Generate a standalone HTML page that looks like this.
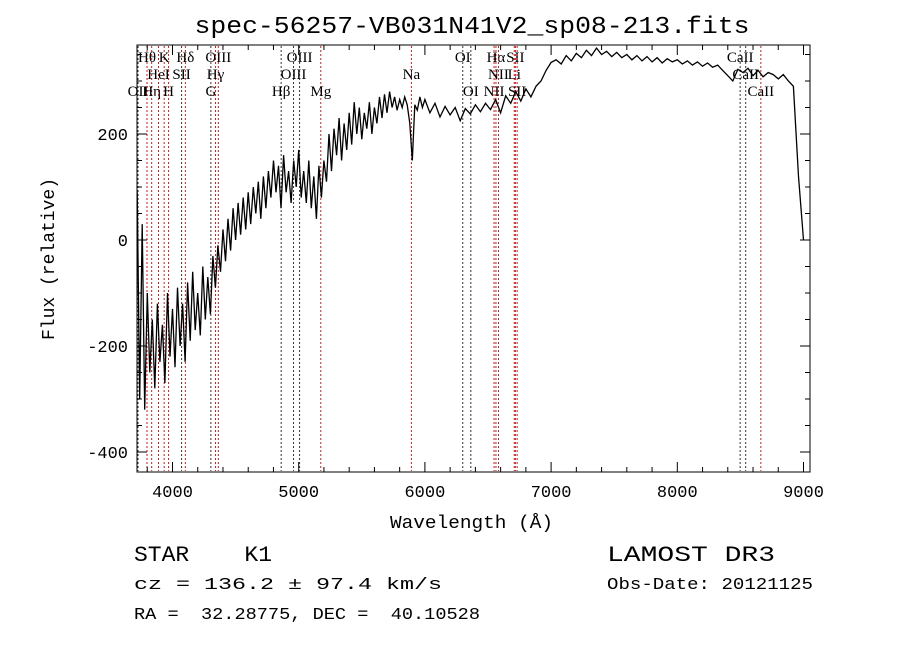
<!DOCTYPE html>
<html><head><meta charset="utf-8"><style>
body{margin:0;background:#fff;}
svg{display:block;}
text{font-family:"Liberation Mono",monospace;fill:#000;white-space:pre;}
.lab{font-family:"Liberation Serif",serif;font-size:15px;}
</style></head><body>
<svg id="c" width="900" height="649" xmlns="http://www.w3.org/2000/svg">
<text x="472" y="33" text-anchor="middle" font-size="24" textLength="555" lengthAdjust="spacingAndGlyphs">spec-56257-VB031N41V2_sp08-213.fits</text>
<g id="lines"></g>
<g id="spec"></g>
<rect x="137" y="45" width="673" height="427" fill="none" stroke="#000"/>
<g id="axes"></g>
<text x="390" y="528" font-size="18" textLength="163" lengthAdjust="spacingAndGlyphs">Wavelength (Å)</text>
<text transform="translate(54,259) rotate(-90)" text-anchor="middle" font-size="18">Flux (relative)</text>
<text x="134" y="561" font-size="22" textLength="138" lengthAdjust="spacingAndGlyphs">STAR    K1</text>
<text x="134" y="589" font-size="17" textLength="308" lengthAdjust="spacingAndGlyphs">cz = 136.2 ± 97.4 km/s</text>
<text x="134" y="619" font-size="17" textLength="346" lengthAdjust="spacingAndGlyphs">RA =  32.28775, DEC =  40.10528</text>
<text x="607" y="561" font-size="22" textLength="168" lengthAdjust="spacingAndGlyphs">LAMOST DR3</text>
<text x="607" y="589" font-size="17" textLength="206" lengthAdjust="spacingAndGlyphs">Obs-Date: 20121125</text>
</svg>
<script>
const blueStart=3720, blueStep=20;
const fluxBlue=[90,-300,30,-320,-100,-250,-150,-280,-120,-230,-160,-270,-100,-220,-130,-240,-90,-200,-120,-230,-80,-190,-60,-170,-100,-180,-50,-150,-70,-140,-30,-90,-10,-60,20,-40,40,-20,60,0,70,10,80,20,90,30,100,50,110,40,120,60,130,80,150,90,140,60,160,90,130,70,150,100,170,80,130,70,150,60,120,40,140,80,150,110,200,130,210,160,230,150,220,170,240,180,260,200,250,190,240,210,260,200,250,220,270,230,275,240,280,250,270,245,265,250,270,255,220,150,255,245,270,250];
const redStart=6000, redStep=40;
const fluxRed=[265,240,258,232,252,236,250,225,248,238,255,242,258,246,265,240,272,258,280,262,285,270,290,300,320,335,340,332,348,338,352,344,358,348,362,350,356,346,354,344,350,340,348,338,346,336,344,334,342,336,340,332,338,330,336,328,334,326,330,320,310,300,322,316,324,310,320,308,316,312,304,312,300,290,120,0];
const lineWl=[3727,3798,3835,3889,3934,3969,4072,4102,4304,4341,4363,4861,4959,5007,5175,5893,6300,6364,6548,6563,6583,6708,6717,6731,8498,8542,8662];
const lineName=["OII","Hθ","Hη","HeI","K","H","SII","Hδ","G","Hγ","OIII","Hβ","OIII","OIII","Mg","Na","OI","OI","NII","Hα","NII","Li","SII","SII","CaII","CaII","CaII"];
const lineRow=[2,0,2,1,0,2,1,0,2,1,0,2,1,0,2,1,0,2,2,0,1,1,0,2,0,1,2];
const lineRed=[0,1,1,1,1,1,0,1,0,1,1,0,0,0,1,1,0,0,1,1,1,1,1,1,0,0,1];
const xTicks=[4000,5000,6000,7000,8000,9000];
const yTicks=[-400,-200,0,200];
const X=l=>172.5+(l-4000)*0.1262;
const Y=f=>240-f*0.53;
const NS="http://www.w3.org/2000/svg";
function mk(t,a,p){const e=document.createElementNS(NS,t);for(const k in a)e.setAttribute(k,a[k]);p.appendChild(e);return e;}
const L=document.getElementById('lines');
lineWl.forEach((w,i)=>{
 const x=X(w);
 const ln=mk('line',{x1:x,x2:x,y1:46,y2:471,stroke:lineRed[i]?'#b22':'#333','stroke-width':1,'stroke-dasharray':'2,2'},L);
 
 
 const t=mk('text',{x:x,y:62+lineRow[i]*17,'text-anchor':'middle',class:'lab'},L);
 t.textContent=lineName[i];
 
 
});
const S=document.getElementById('spec');
let d='';
fluxBlue.forEach((f,i)=>{d+=(i?'L':'M')+X(blueStart+i*blueStep).toFixed(1)+','+Y(f).toFixed(1);});
fluxRed.forEach((f,i)=>{d+='L'+X(redStart+i*redStep).toFixed(1)+','+Y(f).toFixed(1);});
const p=mk('path',{d:d,fill:'none',stroke:'#000','stroke-width':1.3},S);


const A=document.getElementById('axes');
xTicks.forEach(v=>{
 const x=X(v);
 mk('line',{x1:x,x2:x,y1:472,y2:462,stroke:'#000'},A);
 mk('line',{x1:x,x2:x,y1:45,y2:55,stroke:'#000'},A);
 const t=mk('text',{x:x,y:497,'text-anchor':'middle','font-size':17,'font-family':'Liberation Sans, sans-serif'},A);
 t.textContent=v;
 
 
});
for(let v=3800;v<9040;v+=200){if(v%1000){const x=X(v);mk('line',{x1:x,x2:x,y1:472,y2:467,stroke:'#000'},A);mk('line',{x1:x,x2:x,y1:45,y2:50,stroke:'#000'},A);}}
yTicks.forEach(v=>{
 const y=Y(v);
 mk('line',{x1:137,x2:147,y1:y,y2:y,stroke:'#000'},A);
 mk('line',{x1:810,x2:800,y1:y,y2:y,stroke:'#000'},A);
 const t=mk('text',{x:128,y:y+6,'text-anchor':'end','font-size':17,'font-family':'Liberation Sans, sans-serif'},A);
 t.textContent=v;
 
 
});
for(let v=-400;v<=350;v+=50){if(v%200){const y=Y(v);mk('line',{x1:137,x2:142,y1:y,y2:y,stroke:'#000'},A);mk('line',{x1:810,x2:805,y1:y,y2:y,stroke:'#000'},A);}}
</script>
</body></html>
